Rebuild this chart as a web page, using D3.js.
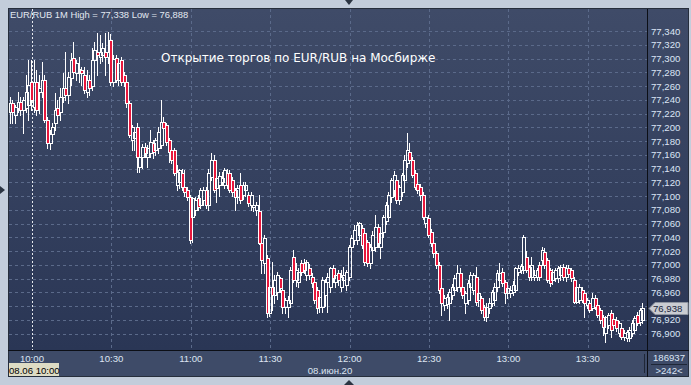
<!DOCTYPE html>
<html>
<head>
<meta charset="utf-8">
<title>EUR/RUB 1M</title>
<script src="https://d3js.org/d3.v7.min.js"></script>
<style>
  body { margin: 0; background: #c3cddb; }
  svg { display: block; }
  text { font-family: "Liberation Sans", Arial, sans-serif; }
</style>
</head>
<body>
<svg id="chart" width="691" height="385"></svg>
<script>
// 1-minute candles, [open, high, low, close]; first 8 belong to the previous session
const ohlc = [
  [77.222,77.244,77.206,77.235],[77.235,77.240,77.206,77.222],[77.218,77.232,77.206,77.230],[77.228,77.251,77.222,77.237],
  [77.237,77.244,77.218,77.225],[77.225,77.244,77.192,77.240],[77.228,77.276,77.222,77.251],[77.232,77.298,77.211,77.262],
  [77.266,77.298,77.225,77.240],[77.230,77.298,77.222,77.266],[77.266,77.283,77.218,77.225],[77.251,77.276,77.221,77.257],
  [77.251,77.295,77.244,77.269],[77.269,77.276,77.208,77.211],[77.211,77.215,77.170,77.177],[77.177,77.196,77.168,77.190],
  [77.190,77.206,77.182,77.201],[77.206,77.250,77.196,77.225],[77.228,77.240,77.206,77.218],[77.222,77.257,77.211,77.244],
  [77.244,77.279,77.237,77.257],[77.257,77.309,77.240,77.247],[77.247,77.280,77.235,77.273],[77.272,77.308,77.262,77.298],
  [77.301,77.324,77.276,77.280],[77.279,77.298,77.269,77.294],[77.285,77.302,77.266,77.283],[77.283,77.288,77.262,77.279],
  [77.276,77.288,77.250,77.254],[77.251,77.283,77.244,77.269],[77.269,77.276,77.247,77.257],[77.260,77.315,77.254,77.298],
  [77.298,77.324,77.290,77.312],[77.309,77.337,77.276,77.305],[77.302,77.334,77.294,77.309],[77.305,77.322,77.296,77.315],
  [77.309,77.337,77.276,77.302],[77.302,77.338,77.294,77.309],[77.327,77.336,77.262,77.266],[77.266,77.305,77.260,77.300],
  [77.301,77.305,77.266,77.269],[77.269,77.298,77.262,77.294],[77.298,77.302,77.262,77.266],[77.276,77.280,77.260,77.266],
  [77.266,77.270,77.230,77.235],[77.235,77.238,77.186,77.189],[77.182,77.204,77.167,77.201],[77.185,77.201,77.167,77.193],
  [77.201,77.206,77.135,77.157],[77.142,77.160,77.135,77.157],[77.157,77.176,77.141,77.171],[77.171,77.177,77.157,77.163],
  [77.157,77.174,77.142,77.170],[77.163,77.196,77.157,77.179],[77.177,77.182,77.155,77.164],[77.167,77.185,77.160,77.182],
  [77.170,77.201,77.163,77.193],[77.174,77.240,77.170,77.208],[77.208,77.215,77.196,77.199],[77.203,77.206,77.174,77.179],
  [77.182,77.185,77.150,77.164],[77.167,77.170,77.148,77.153],[77.167,77.170,77.131,77.134],[77.116,77.145,77.109,77.135],
  [77.121,77.140,77.112,77.138],[77.134,77.140,77.109,77.113],[77.113,77.138,77.100,77.106],[77.109,77.113,77.094,77.099],
  [77.099,77.102,77.032,77.036],[77.070,77.099,77.033,77.097],[77.080,77.099,77.073,77.094],[77.097,77.102,77.080,77.084],
  [77.087,77.112,77.082,77.109],[77.094,77.113,77.087,77.109],[77.109,77.113,77.082,77.087],[77.087,77.140,77.080,77.134],
  [77.128,77.163,77.123,77.153],[77.153,77.160,77.106,77.109],[77.112,77.130,77.092,77.126],[77.116,77.135,77.100,77.129],
  [77.121,77.135,77.116,77.126],[77.116,77.141,77.112,77.138],[77.134,77.140,77.112,77.116],[77.134,77.138,77.106,77.109],
  [77.123,77.128,77.100,77.106],[77.109,77.112,77.080,77.099],[77.099,77.116,77.090,77.112],[77.116,77.134,77.090,77.094],
  [77.102,77.121,77.096,77.116],[77.109,77.121,77.100,77.116],[77.102,77.106,77.086,77.090],[77.087,77.106,77.080,77.102],
  [77.084,77.094,77.078,77.087],[77.080,77.092,77.073,77.087],[77.078,77.102,77.030,77.032],[77.032,77.036,76.988,77.007],
  [77.003,77.044,76.988,77.039],[77.010,77.015,76.924,76.930],[76.930,76.981,76.926,76.968],[76.968,77.004,76.935,76.956],
  [76.956,76.985,76.945,76.978],[76.961,76.990,76.950,76.985],[76.981,76.983,76.960,76.967],[76.964,76.968,76.930,76.939],
  [76.939,76.952,76.930,76.949],[76.939,76.955,76.924,76.949],[76.945,76.997,76.940,76.993],[77.012,77.022,76.975,76.978],
  [76.978,77.003,76.970,76.993],[76.975,76.995,76.968,76.990],[77.003,77.007,76.985,76.990],[77.003,77.008,76.988,76.993],
  [76.985,77.007,76.978,77.004],[76.996,77.002,76.980,76.985],[76.983,76.988,76.968,76.974],[76.975,76.980,76.945,76.949],
  [76.964,76.968,76.930,76.938],[76.939,76.956,76.932,76.953],[76.939,76.983,76.932,76.978],[76.956,76.980,76.940,76.975],
  [76.975,76.988,76.932,76.983],[76.968,76.997,76.960,76.996],[76.996,77.000,76.975,76.981],[76.975,76.990,76.968,76.985],
  [76.988,76.993,76.971,76.978],[76.968,76.993,76.962,76.983],[76.978,76.997,76.970,76.985],[76.971,76.993,76.964,76.990],
  [76.983,77.029,76.978,77.026],[77.026,77.044,77.020,77.039],[77.036,77.058,77.030,77.051],[77.036,77.062,77.030,77.058],
  [77.044,77.062,77.038,77.061],[77.054,77.058,77.025,77.029],[77.046,77.050,77.000,77.004],[77.033,77.036,76.998,77.003],
  [77.003,77.030,76.996,77.026],[77.022,77.050,77.015,77.044],[77.026,77.073,77.020,77.055],[77.055,77.060,77.026,77.032],
  [77.026,77.050,77.010,77.046],[77.048,77.073,77.040,77.070],[77.064,77.092,77.060,77.087],[77.070,77.106,77.065,77.102],
  [77.099,77.126,77.092,77.123],[77.109,77.136,77.100,77.131],[77.123,77.131,77.090,77.094],[77.094,77.116,77.088,77.113],
  [77.106,77.134,77.100,77.131],[77.123,77.160,77.116,77.153],[77.148,77.192,77.142,77.167],[77.164,77.177,77.150,77.153],
  [77.153,77.157,77.128,77.131],[77.134,77.138,77.110,77.113],[77.118,77.122,77.104,77.109],[77.113,77.118,77.094,77.102],
  [77.102,77.106,77.066,77.070],[77.061,77.074,77.055,77.070],[77.068,77.072,77.040,77.044],[77.048,77.052,77.028,77.032],
  [77.032,77.036,77.012,77.017],[77.017,77.020,76.996,77.000],[77.000,77.004,76.959,76.964],[76.967,76.970,76.927,76.945],
  [76.942,76.956,76.935,76.952],[76.943,76.958,76.938,76.954],[76.945,76.965,76.920,76.961],[76.956,76.972,76.950,76.968],
  [76.964,76.985,76.958,76.981],[76.968,77.000,76.962,76.988],[76.988,76.995,76.962,76.968],[76.968,76.972,76.952,76.956],
  [76.945,76.962,76.930,76.959],[76.949,76.978,76.943,76.974],[76.968,76.990,76.962,76.985],[76.964,76.988,76.958,76.985],
  [76.983,76.997,76.942,76.946],[76.949,76.964,76.940,76.959],[76.952,76.955,76.930,76.935],[76.939,76.942,76.920,76.924],
  [76.924,76.945,76.918,76.939],[76.938,76.952,76.930,76.945],[76.945,76.964,76.940,76.961],[76.949,76.974,76.942,76.968],
  [76.968,76.993,76.962,76.988],[76.978,77.003,76.972,76.988],[76.990,76.995,76.970,76.974],[76.975,76.978,76.945,76.959],
  [76.959,76.972,76.952,76.967],[76.959,76.970,76.954,76.964],[76.961,76.976,76.956,76.971],[76.964,76.997,76.960,76.996],
  [76.990,77.000,76.985,76.996],[76.993,77.002,76.988,76.998],[76.993,77.044,76.988,77.040],[77.012,77.020,76.990,76.993],
  [76.997,77.000,76.978,76.983],[76.983,77.012,76.978,77.000],[76.983,76.992,76.978,76.985],[76.983,76.996,76.978,76.993],
  [77.000,77.004,76.978,76.983],[77.007,77.026,77.000,77.022],[77.019,77.024,76.996,77.000],[77.007,77.010,76.975,76.978],
  [76.993,76.996,76.970,76.974],[76.978,76.994,76.972,76.990],[76.981,76.996,76.976,76.993],[76.981,76.998,76.975,76.996],
  [76.985,77.000,76.978,76.997],[76.997,77.002,76.978,76.983],[76.983,77.000,76.976,76.996],[76.996,77.000,76.982,76.987],
  [76.993,76.996,76.976,76.981],[76.978,76.982,76.944,76.946],[76.946,76.972,76.945,76.968],[76.949,76.972,76.944,76.968],
  [76.964,76.968,76.946,76.949],[76.959,76.962,76.924,76.945],[76.942,76.952,76.938,76.949],[76.945,76.948,76.932,76.935],
  [76.938,76.959,76.934,76.952],[76.952,76.956,76.936,76.939],[76.942,76.945,76.924,76.927],[76.935,76.938,76.916,76.920],
  [76.924,76.927,76.898,76.910],[76.901,76.926,76.888,76.924],[76.913,76.930,76.908,76.927],[76.930,76.934,76.895,76.906],
  [76.922,76.926,76.908,76.912],[76.920,76.924,76.904,76.908],[76.901,76.919,76.897,76.916],[76.908,76.912,76.892,76.895],
  [76.895,76.905,76.891,76.901],[76.894,76.906,76.890,76.902],[76.894,76.910,76.889,76.906],[76.901,76.920,76.896,76.916],
  [76.906,76.926,76.902,76.923],[76.927,76.932,76.912,76.915],[76.917,76.938,76.912,76.935],[76.920,76.945,76.916,76.938]
];

const yTicks = [76.90, 76.92, 76.94, 76.96, 76.98, 77.00, 77.02, 77.04, 77.06, 77.08, 77.10, 77.12,
                77.14, 77.16, 77.18, 77.20, 77.22, 77.24, 77.26, 77.28, 77.30, 77.32, 77.34];
const yTickLabels = ["76,900", "76,920", "76,940", "76,960", "76,980", "77,000", "77,020", "77,040",
                     "77,060", "77,080", "77,100", "77,120", "77,140", "77,160", "77,180", "77,200",
                     "77,220", "77,240", "77,260", "77,280", "77,300", "77,320", "77,340"];
// candle index of each time label
const timeTicks = [8, 38, 68, 98, 128, 158, 188, 218];
const timeLabels = ["10:00", "10:30", "11:00", "11:30", "12:00", "12:30", "13:00", "13:30"];
const sessionStart = 8;

const lastPrice = 76.938;
const lastLabel = "76,938";
const headerText = "EUR/RUB 1M High = 77,338 Low = 76,888";
const titleText = "Открытие торгов по EUR/RUB на Мосбирже";
const sessionLabel = "08.06 10:00";
const dateLabel = "08.июн.20";
const volumeLabel = "186937";
const barsLabel = ">242<";

const svg = d3.select("#chart");
const plot = { left: 9, top: 9, right: 647, bottom: 350 };

const x = d3.scaleLinear().domain([0, ohlc.length - 1]).range([10.8, 643.4]);
const y = d3.scaleLinear().domain([76.900, 77.340]).range([333.7, 31]);

const defs = svg.append("defs");
const grad = defs.append("linearGradient")
  .attr("id", "bg").attr("x1", 0).attr("y1", 0).attr("x2", 0).attr("y2", 1);
grad.append("stop").attr("offset", "0%").attr("stop-color", "#3f4b68");
grad.append("stop").attr("offset", "100%").attr("stop-color", "#2a3655");

// panels
svg.append("rect").attr("x", 8).attr("y", 8).attr("width", 681).attr("height", 369).attr("fill", "#3e4b68");
svg.append("rect")
  .attr("x", plot.left).attr("y", plot.top)
  .attr("width", plot.right - plot.left).attr("height", plot.bottom - plot.top)
  .attr("fill", "url(#bg)");
svg.append("rect")
  .attr("x", 648).attr("y", plot.top).attr("width", 40).attr("height", plot.bottom - plot.top)
  .attr("fill", "url(#bg)");

// grid
svg.append("g")
  .selectAll("line")
  .data(yTicks)
  .enter().append("line")
  .attr("x1", plot.left).attr("x2", plot.right)
  .attr("y1", d => Math.round(y(d)) + 0.5).attr("y2", d => Math.round(y(d)) + 0.5)
  .attr("stroke", "#5b6a8a").attr("stroke-dasharray", "3,3");

svg.append("g")
  .selectAll("line")
  .data(timeTicks.filter(d => d !== sessionStart))
  .enter().append("line")
  .attr("x1", d => Math.round(x(d)) + 0.5).attr("x2", d => Math.round(x(d)) + 0.5)
  .attr("y1", plot.top).attr("y2", plot.bottom)
  .attr("stroke", "#5b6a8a").attr("stroke-dasharray", "3,3");

// session separator
svg.append("line")
  .attr("x1", Math.round(x(sessionStart)) + 0.5).attr("x2", Math.round(x(sessionStart)) + 0.5)
  .attr("y1", plot.top).attr("y2", plot.bottom)
  .attr("stroke", "#e6e9ee").attr("stroke-dasharray", "2,2");

// candles
const candles = svg.append("g")
  .selectAll("g")
  .data(ohlc)
  .enter().append("g");

candles.each(function (d, i) {
  const g = d3.select(this);
  const rx = Math.round(x(i));
  const top = Math.round(y(Math.max(d[0], d[3]))) + 0.5;
  let bot = Math.round(y(Math.min(d[0], d[3]))) + 0.5;
  if (bot - top < 1) bot = top + 1;
  const wx = rx - 0.5;
  g.append("line")
    .attr("x1", wx).attr("x2", wx)
    .attr("y1", Math.round(y(d[1]))).attr("y2", top)
    .attr("stroke", "#ffffff");
  g.append("line")
    .attr("x1", wx).attr("x2", wx)
    .attr("y1", bot).attr("y2", Math.round(y(d[2])) + 1)
    .attr("stroke", "#ffffff");
  g.append("rect")
    .attr("x", rx - 1.5).attr("y", top)
    .attr("width", 3).attr("height", bot - top)
    .attr("fill", d[3] < d[0] ? "#e8173c" : "none")
    .attr("stroke", "#ffffff");
});

// borders
svg.append("rect").attr("x", 8.5).attr("y", 8.5).attr("width", 680).attr("height", 368)
  .attr("fill", "none").attr("stroke", "#262e3c");
svg.append("line").attr("x1", 647.5).attr("x2", 647.5).attr("y1", 9).attr("y2", 377).attr("stroke", "#0c0f16");
svg.append("line").attr("x1", 8).attr("x2", 689).attr("y1", 350.5).attr("y2", 350.5).attr("stroke", "#0c0f16");

// right price axis (the label under the last-price marker is hidden, as in the terminal)
const ly = Math.round(y(lastPrice)) + 0.5;
svg.append("g")
  .selectAll("text")
  .data(yTicks.map((v, i) => ({ v, label: yTickLabels[i] })).filter(d => Math.abs(y(d.v) - ly) > 9))
  .enter().append("text")
  .attr("x", 651).attr("y", d => y(d.v) + 3.5)
  .attr("fill", "#dbe5f5").attr("font-size", "9.6px")
  .text(d => d.label);

// last price marker
svg.append("polygon")
  .attr("points", `649,${ly} 655,${ly - 6} 688,${ly - 6} 688,${ly + 6} 655,${ly + 6}`)
  .attr("fill", "#c9ccd2").attr("stroke", "#8d94a0");
svg.append("text")
  .attr("x", 653).attr("y", ly + 3.5)
  .attr("fill", "#18243c").attr("font-size", "9.6px")
  .text(lastLabel);

// time axis
svg.append("g")
  .selectAll("text")
  .data(timeTicks)
  .enter().append("text")
  .attr("x", d => x(d)).attr("y", 362)
  .attr("text-anchor", "middle")
  .attr("fill", "#dde5f1").attr("font-size", "9.6px")
  .text((d, i) => timeLabels[i]);

svg.append("rect").attr("x", 9).attr("y", 363).attr("width", 50).attr("height", 13).attr("fill", "#dedcc4");
svg.append("text").attr("x", 9).attr("y", 373.5)
  .attr("fill", "#000").attr("font-size", "9.6px").text(sessionLabel);

svg.append("text").attr("x", 330).attr("y", 374)
  .attr("text-anchor", "middle").attr("fill", "#dde5f1").attr("font-size", "9.6px").text(dateLabel);

svg.append("line").attr("x1", 644.5).attr("x2", 644.5).attr("y1", 354).attr("y2", 373).attr("stroke", "#1f2737");

svg.append("text").attr("x", 669).attr("y", 361)
  .attr("text-anchor", "middle").attr("fill", "#dbe5f5").attr("font-size", "9.6px").text(volumeLabel);
svg.append("line").attr("x1", 651).attr("x2", 687).attr("y1", 364.5).attr("y2", 364.5).attr("stroke", "#1f2737");
svg.append("text").attr("x", 669).attr("y", 374)
  .attr("text-anchor", "middle").attr("fill", "#dbe5f5").attr("font-size", "9.6px").text(barsLabel);

// header and title
svg.append("text").attr("x", 10).attr("y", 18)
  .attr("fill", "#e2e8f1").attr("font-size", "9.4px").text(headerText);
svg.append("text").attr("x", 161).attr("y", 62)
  .attr("fill", "#ffffff").attr("font-size", "12px")
  .style("font-family", "'DejaVu Sans', sans-serif")
  .text(titleText);

// small scroll markers
svg.append("polygon").attr("points", "345,0 353,0 349,5").attr("fill", "#2b3442");
svg.append("polygon").attr("points", "0,186 0,194 5,190").attr("fill", "#2b3442");
svg.append("polygon").attr("points", "344,385 354,385 349,380").attr("fill", "#2b3442");
</script>
</body>
</html>
